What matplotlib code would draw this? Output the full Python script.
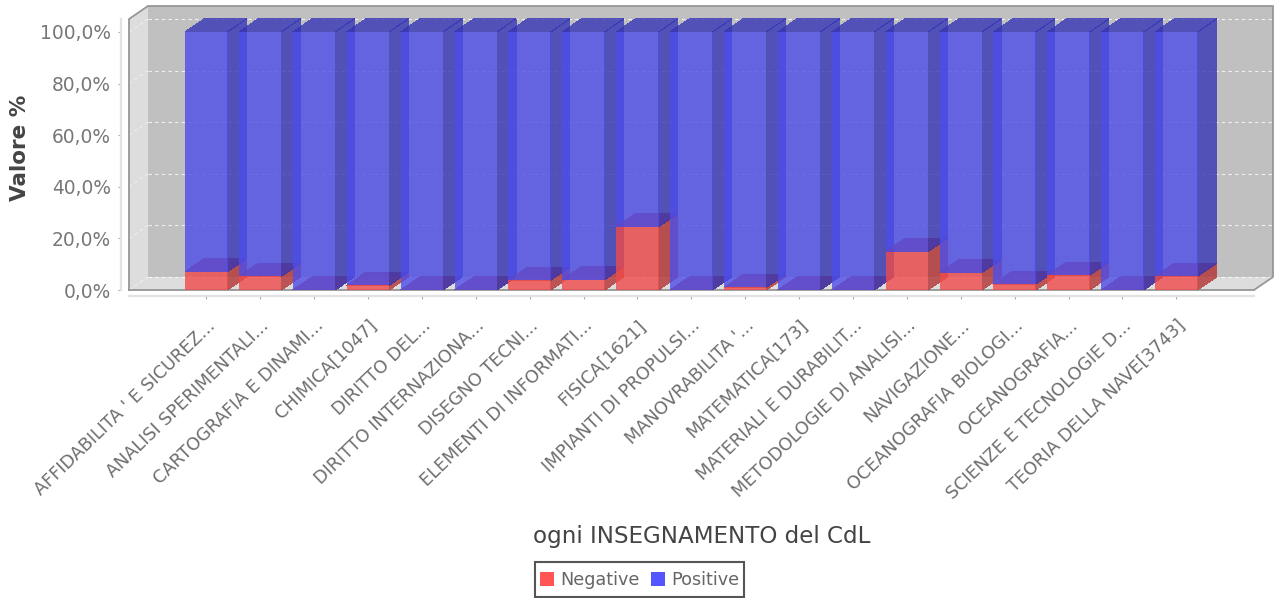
import matplotlib
matplotlib.use('Agg')
import matplotlib.pyplot as plt
from matplotlib.patches import Polygon, Patch, Rectangle

categories = ["AFFIDABILITA ' E SICUREZ...", "ANALISI SPERIMENTALI...", "CARTOGRAFIA E DINAMI...",
              "CHIMICA[1047]", "DIRITTO DEL...", "DIRITTO INTERNAZIONA...", "DISEGNO TECNI...",
              "ELEMENTI DI INFORMATI...", "FISICA[1621]", "IMPIANTI DI PROPULSI...",
              "MANOVRABILITA '...", "MATEMATICA[173]", "MATERIALI E DURABILIT...",
              "METODOLOGIE DI ANALISI...", "NAVIGAZIONE...", "OCEANOGRAFIA BIOLOGI...",
              "OCEANOGRAFIA...", "SCIENZE E TECNOLOGIE D...", "TEORIA DELLA NAVE[3743]"]
negative = [7.1, 5.3, 0, 1.8, 0, 0, 3.8, 4.0, 24.5, 0, 1.0, 0, 0, 14.9, 6.7, 2.3, 5.8, 0, 5.3]
positive = [100 - v for v in negative]
yticks = [0, 20, 40, 60, 80, 100]

# sizes in pixels of the reference
W, H = 1274, 598
dx = 19 / 53.9   # depth of the 3d effect, category units
dy = 13 / 2.58   # same, percent units
bar_w = 42.5 / 53.9
ymax = 105
xmin, xmax = -1.434, 19.44

fig = plt.figure(figsize=(W / 100, H / 100), dpi=100)
ax = fig.add_axes([129 / W, 1 - 290 / H, (1254 - 129) / W, (290 - 19) / H])
ax.set_xlim(xmin, xmax)
ax.set_ylim(0, ymax)
ax.patch.set_visible(False)


def poly(pts, color, alpha=1.0, z=1, **kw):
    ax.add_patch(Polygon(pts, closed=True, facecolor=color, alpha=alpha, zorder=z,
                         edgecolor='none', clip_on=False, **kw))


# walls
wall = '#c0c0c0'
poly([(xmin + dx, dy), (xmax + dx, dy), (xmax + dx, ymax + dy), (xmin + dx, ymax + dy)], wall)
poly([(xmin, 0), (xmin + dx, dy), (xmin + dx, ymax + dy), (xmin, ymax)], '#dddddd')
poly([(xmin, 0), (xmax, 0), (xmax + dx, dy), (xmin + dx, dy)], '#dddddd')

# grid on the walls
for v in yticks:
    ax.plot([xmin + dx, xmax + dx], [v + dy, v + dy], color='white', lw=0.8, ls=(0, (3, 3)),
            zorder=2, clip_on=False, alpha=0.8)
    ax.plot([xmin, xmin + dx], [v, v + dy], color='white', lw=0.8, ls=(0, (3, 3)),
            zorder=2, clip_on=False, alpha=0.5)

# outline
edge = '#969696'
ax.plot([xmin, xmin, xmin + dx, xmax + dx, xmax + dx, xmax, xmin],
        [0, ymax, ymax + dy, ymax + dy, dy, 0, 0], color=edge, lw=1.3, zorder=3, clip_on=False)

# bars, red block then blue block on top of it
A = 0.8
for i in range(len(categories)):
    left = i - bar_w / 2
    right = i + bar_w / 2
    for base, val, front, side, top in [(0, negative[i], '#f04b4b', '#b33232', '#b33232'),
                                        (negative[i], positive[i], '#4d4dea', '#3535b5', '#3535b5')]:
        end = base + val
        z = 4 + i * 0.01
        poly([(right, base), (right + dx, base + dy), (right + dx, end + dy), (right, end)], side, A, z, antialiased=False)
        poly([(left, end), (right, end), (right + dx, end + dy), (left + dx, end + dy)], top, A, z, antialiased=False)
        poly([(left, base), (right, base), (right, end), (left, end)], front, A, z + 0.001, antialiased=False)

# axes
for s in ['top', 'right']:
    ax.spines[s].set_visible(False)
ax.spines['bottom'].set_position(('outward', 4.3))
ax.spines['left'].set_position(('outward', 5.8))
for s in ['bottom', 'left']:
    ax.spines[s].set_color('#e2e2e2')
    ax.spines[s].set_linewidth(1.6)

ax.set_yticks(yticks)
ax.set_yticklabels(['%d,0%%' % v for v in yticks], fontsize=13.4, color='#777777')
ax.set_xticks(range(len(categories)))
ax.set_xticklabels(categories, rotation=44, ha='right', rotation_mode='anchor',
                   fontsize=12.7, color='#6e6e6e')
ax.tick_params(axis='both', length=2.2, width=0.8, color='#aaaaaa')
ax.tick_params(axis='y', pad=5)
ax.tick_params(axis='x', pad=12.5)

fig.text(20 / W, 1 - 148 / H, 'Valore %', rotation=90, fontsize=15.5, fontweight='bold',
         color='#444444', ha='center', va='center')
fig.text(702 / W, 1 - 537 / H, 'ogni INSEGNAMENTO del CdL', fontsize=16.6, color='#444444',
         ha='center', va='center')

handles = [Patch(facecolor='#ff5555', label='Negative'), Patch(facecolor='#5555ff', label='Positive')]
leg = fig.legend(handles=handles, ncol=2, loc='center', bbox_to_anchor=(639.5 / W, 1 - 580 / H),
                 fontsize=12.7, frameon=False, handlelength=0.8, handleheight=0.8,
                 handletextpad=0.35, columnspacing=0.65, borderpad=0.3, borderaxespad=0,
                 labelcolor='#666666')
fig.add_artist(Rectangle((535 / W, 1 - 597 / H), 209 / W, 35 / H, transform=fig.transFigure,
                         facecolor='none', edgecolor='#555555', lw=1.5))

fig.savefig('out.png', dpi=100)
